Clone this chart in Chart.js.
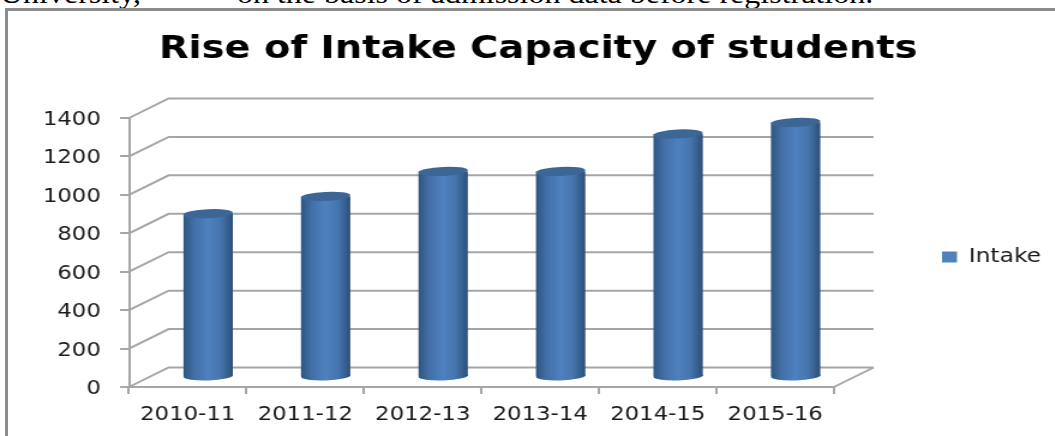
<!DOCTYPE html>
<html>
<head>
<meta charset="utf-8">
<script src="https://cdn.jsdelivr.net/npm/chart.js@4/dist/chart.umd.min.js"></script>
<style>
  html, body { margin: 0; padding: 0; background: #fff; overflow: hidden; }
  #page { position: relative; width: 1055px; height: 436px; overflow: hidden; }
  #caption { position: absolute; left: 0; top: -21px; white-space: pre; font: 27px "Liberation Serif", serif; color: #000; transform: scaleX(1.185); transform-origin: left top; }
  #frame { position: absolute; left: 5px; top: 8px; width: 1050px; height: 428px; border-left: 3px solid #8c8c8c; border-top: 3px solid #8c8c8c; }
  /* the source picture is stretched sideways, so the canvas is too */
  canvas { position: absolute; left: 0; top: 0; transform: scaleX(1.2); transform-origin: left top; }
</style>
</head>
<body>
<div id="page">
  <div id="caption">University,            on the basis of admission data before registration.</div>
  <div id="frame"></div>
  <canvas id="intakeChart" width="879" height="436"></canvas>
</div>
<script>
const years = ['2010-11', '2011-12', '2012-13', '2013-14', '2014-15', '2015-16'];
const intake = [850, 940, 1070, 1070, 1265, 1325];
const yTicks = [0, 200, 400, 600, 800, 1000, 1200, 1400];

// how far the back wall sits behind the axes, and the bars between the two
const wallDx = 33, wallDy = -19.5;
const barDx = 17, barDy = -10;
const capH = 4.5;
const barShare = 0.42;
const gridColor = '#a6a6a6';

function cylinderGradient(ctx, left, right) {
  const g = ctx.createLinearGradient(left, 0, right, 0);
  g.addColorStop(0, '#2f5580');
  g.addColorStop(0.22, '#4270a8');
  g.addColorStop(0.5, '#4f81c0');
  g.addColorStop(0.75, '#4675ae');
  g.addColorStop(1, '#2c4f78');
  return g;
}

// back wall and floor, drawn under the bars
const wallPlugin = {
  id: 'wall',
  afterLayout(chart) {
    // title is centred on the whole picture, legend sits away from the plot
    chart.titleBlock.left = 0;
    chart.titleBlock.right = 897;
    const w = chart.legend.width;
    chart.legend.left = 775;
    chart.legend.right = 775 + w;
    chart.legend.top += 39;
    chart.legend.bottom += 39;
  },
  beforeDatasetsDraw(chart) {
    const { ctx, scales: { x, y } } = chart;
    ctx.save();
    ctx.strokeStyle = gridColor;
    ctx.lineWidth = 2;
    yTicks.forEach((v) => {
      const py = y.getPixelForValue(v);
      ctx.beginPath();
      ctx.moveTo(x.left, py);
      ctx.lineTo(x.left + wallDx, py + wallDy);
      ctx.lineTo(x.right + wallDx, py + wallDy);
      ctx.stroke();
    });
    const py0 = y.getPixelForValue(0);
    ctx.beginPath();
    ctx.moveTo(x.right, py0);
    ctx.lineTo(x.right + wallDx, py0 + wallDy);
    ctx.stroke();
    ctx.restore();

    ctx.save();
    ctx.translate(barDx, barDy);
  },
  afterDatasetsDraw(chart) {
    const { ctx } = chart;
    const meta = chart.getDatasetMeta(0);
    meta.data.forEach((bar) => {
      const left = bar.x - bar.width / 2;
      const right = bar.x + bar.width / 2;
      // rounded foot of the cylinder
      ctx.fillStyle = cylinderGradient(ctx, left, right);
      ctx.beginPath();
      ctx.ellipse(bar.x, bar.base, bar.width / 2, capH, -0.04, 0, Math.PI * 2);
      ctx.fill();
      // darker lid
      ctx.fillStyle = '#3c6696';
      ctx.beginPath();
      ctx.ellipse(bar.x, bar.y, bar.width / 2, capH, -0.06, 0, Math.PI * 2);
      ctx.fill();
    });
    ctx.restore();
  },
};

new Chart(document.getElementById('intakeChart'), {
  type: 'bar',
  data: {
    labels: years,
    datasets: [{
      label: 'Intake',
      data: intake,
      clip: false,
      barPercentage: barShare,
      categoryPercentage: 1,
      borderWidth: 0,
      backgroundColor: (c) => {
        const x = c.chart.scales.x;
        const mid = x.getPixelForValue(c.dataIndex);
        const half = x.width / years.length * barShare / 2;
        if (!Number.isFinite(mid) || !Number.isFinite(half)) return '#4f81bd';
        return cylinderGradient(c.chart.ctx, mid - half, mid + half);
      },
    }],
  },
  options: {
    responsive: false,
    animation: false,
    layout: { padding: { left: 0, right: 81.5, top: 0, bottom: 0 } },
    plugins: {
      title: {
        display: true,
        text: 'Rise of Intake Capacity of students',
        color: '#000',
        font: { family: 'DejaVu Sans', size: 32, weight: 'bold' },
        padding: { top: 30.5, bottom: 49.1 },
      },
      legend: {
        position: 'right',
        labels: {
          boxWidth: 12.5,
          boxHeight: 11,
          color: '#1a1a1a',
          font: { family: 'DejaVu Sans', size: 19.5 },
          generateLabels: (chart) => Chart.defaults.plugins.legend.labels.generateLabels(chart)
            .map((item) => ({ ...item, fillStyle: '#4f81bd', lineWidth: 0 })),
        },
      },
      tooltip: { enabled: false },
    },
    scales: {
      x: {
        afterFit(scale) { scale.height = 49; },
        grid: { display: true, drawOnChartArea: false, color: gridColor, lineWidth: 2, tickLength: 7 },
        border: { color: gridColor, width: 2 },
        ticks: { color: '#1a1a1a', font: { family: 'DejaVu Sans', size: 19 }, padding: 10 },
      },
      y: {
        min: 0,
        max: 1400,
        afterFit(scale) { scale.width = 107.5; },
        grid: { display: true, drawOnChartArea: false, color: gridColor, lineWidth: 2, tickLength: 7.5 },
        border: { color: gridColor, width: 2 },
        ticks: {
          stepSize: 200,
          color: '#1a1a1a',
          font: { family: 'DejaVu Sans', size: 19 },
          padding: 16,
          labelOffset: 2,
          callback: (v) => String(v),
        },
      },
    },
  },
  plugins: [wallPlugin],
});
</script>
</body>
</html>
